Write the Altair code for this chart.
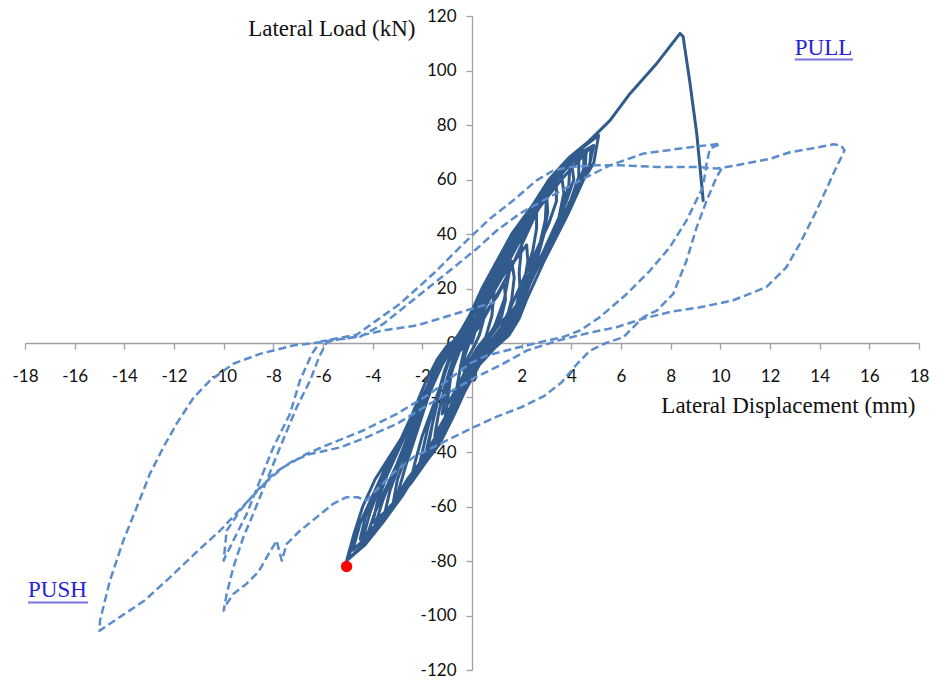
import altair as alt
import pandas as pd

# ---------------- data ----------------
x_ticks = [-18, -16, -14, -12, -10, -8, -6, -4, -2, 0, 2, 4, 6, 8, 10, 12, 14, 16, 18]
y_ticks = [-120, -100, -80, -60, -40, -20, 0, 20, 40, 60, 80, 100, 120]

# solid curve: cycles up to about +/-5 mm (x mm, y kN), then the final pull
cyc_01 = [(0.0, 0), (0.15, 5), (0.35, 10), (0.5, 12), (0.45, 8), (0.3, 3), (0.1, -1), (-0.15, -5),
          (-0.35, -10), (-0.3, -5), (-0.15, -1)]
cyc_02 = [(0.05, 3), (0.3, 10), (0.6, 18), (0.93, 29), (0.9, 20), (0.8, 10), (0.55, 2), (0.2, -2),
          (-0.2, -8), (-0.5, -16), (-0.75, -24.8), (-0.6, -16), (-0.45, -8), (-0.3, -2)]
cyc_03 = [(-0.2, 1), (0.2, 7), (0.6, 12), (1.0, 17), (1.3, 22), (1.35, 16), (1.2, 10), (0.9, 5),
          (0.5, 0), (0.1, -5), (-0.3, -11), (-0.7, -18), (-1.2, -26), (-1.05, -18), (-0.8, -10),
          (-0.5, -3)]
cyc_04 = [(0.0, 2), (0.35, 12), (0.75, 22), (1.2, 30), (1.55, 34), (1.5, 26), (1.3, 16), (0.9, 6),
          (0.5, 0), (0.1, -4), (-0.3, -12), (-0.7, -22), (-1.15, -32.1), (-1.0, -22), (-0.85, -12),
          (-0.6, -4), (-0.4, 0)]
cyc_05 = [(-0.2, 0), (0.2, 8), (0.6, 16), (1.0, 22), (1.4, 27), (1.6, 30), (1.7, 24), (1.6, 16),
          (1.4, 9), (1.0, 3), (0.5, -1), (0.0, -6), (-0.5, -16), (-1.0, -26), (-1.5, -34),
          (-1.35, -26), (-1.1, -16), (-0.8, -7), (-0.5, -1)]
cyc_06 = [(-0.3, 0), (0.2, 8), (0.7, 16), (1.2, 24), (1.7, 30), (2.2, 36), (2.25, 30), (2.1, 22),
          (1.8, 14), (1.3, 6), (0.8, 1), (0.2, -4), (-0.3, -12), (-0.8, -22), (-1.3, -32), (-1.8, -40),
          (-1.6, -30), (-1.3, -18), (-1.0, -8), (-0.6, -1)]
cyc_07 = [(-0.1, 2), (0.3, 10), (0.8, 22), (1.4, 32), (1.9, 38), (2.07, 42.5), (2.0, 36), (1.9, 26),
          (1.93, 19.9), (1.8, 14), (1.55, 11), (1.2, 8), (0.7, 2), (0.3, -2), (-0.2, -10), (-0.7, -20),
          (-1.2, -30), (-1.6, -38), (-1.96, -44.4), (-1.7, -34), (-1.4, -22), (-1.1, -10), (-0.8, -3),
          (-0.5, 0)]
cyc_08 = [(-0.3, 1), (0.2, 8), (0.6, 16), (1.0, 24), (1.5, 33), (2.1, 42), (2.6, 48), (2.6, 42),
          (2.45, 34), (2.2, 26), (1.95, 18), (1.7, 11), (1.3, 5), (0.8, 0), (0.3, -6), (-0.2, -15),
          (-0.7, -26), (-1.3, -37), (-1.8, -43), (-2.2, -48), (-2.0, -40), (-1.75, -30), (-1.4, -20),
          (-1.1, -10), (-0.8, -3)]
cyc_09 = [(-0.2, 1), (0.2, 8), (0.7, 20), (1.3, 30), (1.8, 40), (2.4, 48), (3.0, 53.5), (2.95, 45),
          (2.7, 35), (2.3, 25), (1.9, 15), (1.4, 6), (0.8, 0), (0.3, -4), (-0.3, -14), (-0.9, -26),
          (-1.5, -36), (-2.1, -44), (-2.6, -50), (-3.03, -56.6), (-2.7, -46), (-2.2, -32), (-1.7, -18),
          (-1.2, -8), (-0.8, -2)]
cyc_10 = [(-0.3, 0), (0.3, 6), (0.9, 16), (1.5, 26), (2.0, 36), (2.5, 46), (3.0, 55), (3.05, 48),
          (2.9, 40), (2.6, 30), (2.2, 20), (1.9, 12), (1.5, 5), (1.0, 0), (0.4, -5), (-0.1, -14),
          (-0.6, -24), (-1.2, -34), (-1.8, -43), (-2.5, -52), (-2.3, -44), (-2.0, -34), (-1.6, -24),
          (-1.2, -14), (-0.9, -6), (-0.6, -1)]
cyc_11 = [(-0.5, 0), (0.0, 5), (0.5, 14), (1.0, 22), (1.6, 32), (2.2, 42), (2.8, 51), (3.4, 60),
          (3.4, 52), (3.1, 44), (2.6, 34), (2.1, 24), (1.6, 14), (1.2, 6), (0.7, 0), (0.1, -6),
          (-0.4, -16), (-1.0, -28), (-1.7, -40), (-2.5, -51), (-3.2, -60), (-3.0, -50), (-2.6, -40),
          (-2.1, -28), (-1.6, -16), (-1.2, -7), (-0.8, -1)]
cyc_12 = [(-0.4, 0), (0.1, 8), (0.5, 18), (1.1, 30), (1.7, 40), (2.5, 50), (3.2, 60), (3.95, 66.4),
          (3.9, 58), (3.6, 48), (3.2, 40), (2.7, 30), (2.2, 20), (1.7, 10), (1.1, 2), (0.5, -3),
          (-0.1, -12), (-0.7, -24), (-1.4, -36), (-2.2, -46), (-2.9, -56), (-3.5, -63), (-3.97, -68.9),
          (-3.6, -58), (-3.0, -44), (-2.4, -30), (-1.8, -18), (-1.2, -6), (-0.8, -1)]
cyc_13 = [(-0.4, 2), (0.2, 10), (0.8, 20), (1.4, 30), (2.0, 40), (2.7, 50), (3.2, 57), (3.6, 62),
          (3.7, 55), (3.5, 46), (3.0, 36), (2.5, 26), (2.0, 18), (1.8, 12), (1.4, 4), (0.9, -1),
          (0.2, -8), (-0.3, -16), (-0.9, -28), (-1.6, -40), (-2.4, -50), (-3.0, -57), (-3.5, -62),
          (-3.3, -54), (-2.9, -44), (-2.4, -34), (-1.9, -22), (-1.5, -12), (-1.1, -4)]
cyc_14 = [(-0.5, 1), (0.0, 9), (0.5, 20), (1.2, 31), (1.8, 42), (2.6, 52), (3.3, 61), (4.0, 66.4),
          (4.1, 60), (3.8, 52), (3.3, 42), (2.8, 32), (2.2, 22), (1.9, 14), (1.5, 6), (0.9, 0),
          (0.3, -6), (-0.4, -18), (-1.1, -30), (-1.9, -42), (-2.8, -54), (-3.6, -64), (-4.2, -70),
          (-3.9, -62), (-3.3, -50), (-2.7, -38), (-2.0, -24), (-1.4, -12), (-1.0, -3)]
cyc_15 = [(-0.5, 0), (0.1, 7), (0.6, 17), (1.1, 26), (1.7, 36), (2.3, 46), (3.0, 56), (3.7, 64),
          (4.3, 68), (4.3, 61), (4.0, 53), (3.6, 45), (3.1, 37), (2.6, 28), (2.3, 21), (2.0, 14),
          (1.7, 7), (1.2, 1), (0.6, -4), (0.0, -12), (-0.6, -22), (-1.3, -34), (-2.1, -46),
          (-2.9, -56), (-3.5, -62), (-4.0, -66), (-3.8, -58), (-3.4, -48), (-2.9, -38), (-2.3, -26),
          (-1.7, -14), (-1.2, -5), (-0.8, 0)]
cyc_16 = [(-0.6, 0), (-0.1, 8), (0.4, 18), (1.0, 28), (1.7, 38), (2.5, 48), (3.2, 58), (3.9, 66),
          (4.4, 70), (4.9, 72.5), (4.7, 64), (4.35, 58), (3.9, 50), (3.4, 42), (2.9, 33), (2.4, 24),
          (2.0, 16), (1.6, 8), (1.0, 1), (0.3, -6), (-0.5, -20), (-1.3, -34), (-2.1, -46), (-3.0, -58),
          (-3.8, -68), (-4.5, -75), (-5.05, -80), (-4.75, -70), (-4.4, -60), (-3.9, -50), (-3.2, -40),
          (-2.5, -30), (-1.9, -20), (-1.4, -10), (-1.0, -2)]
cyc_17 = [(-0.7, 0), (-0.2, 6), (0.2, 14), (0.7, 24), (1.3, 34), (2.0, 44), (2.8, 54), (3.5, 62),
          (4.1, 67), (4.5, 70), (4.5, 64), (4.2, 56), (3.7, 46), (3.1, 36), (2.6, 27), (2.2, 19),
          (1.9, 11), (1.4, 3), (0.8, -2), (0.1, -10), (-0.6, -22), (-1.4, -36), (-2.3, -48),
          (-3.2, -60), (-3.9, -67), (-4.5, -72), (-4.3, -64), (-3.8, -52), (-3.1, -40), (-2.4, -28),
          (-1.8, -16), (-1.3, -6), (-0.9, 0)]
cyc_18 = [(-0.8, 0), (-0.3, 6), (0.3, 16), (0.9, 26), (1.5, 36), (2.3, 46), (3.0, 55), (3.7, 63),
          (4.2, 68), (4.6, 70.5), (4.55, 63), (4.3, 56), (3.9, 48), (3.4, 39), (2.9, 30), (2.5, 22),
          (2.2, 16), (1.9, 9), (1.5, 3), (0.9, -2), (0.3, -8), (-0.3, -18), (-1.0, -30), (-1.8, -42),
          (-2.7, -54), (-3.6, -64), (-4.4, -72), (-4.1, -62), (-3.6, -50), (-3.0, -38), (-2.4, -26),
          (-1.9, -15), (-1.4, -6), (-1.0, -1)]
cyc_19 = [(-0.6, 1), (0.0, 6), (0.4, 12), (0.9, 22), (1.5, 32), (2.1, 42), (2.9, 52), (3.6, 60),
          (4.3, 67), (4.8, 72), (4.75, 66), (4.5, 61), (4.1, 54), (3.6, 46), (3.2, 40), (2.8, 32),
          (2.4, 24), (2.1, 18), (1.9, 12), (1.6, 6), (1.1, 1), (0.5, -4), (-0.2, -14), (-0.9, -26),
          (-1.7, -38), (-2.5, -50), (-3.3, -61), (-4.1, -70), (-4.8, -76), (-4.5, -66), (-4.0, -56),
          (-3.5, -46), (-2.9, -36), (-2.3, -26), (-1.8, -16), (-1.3, -6), (-0.9, -1)]
cyc_20 = [(-0.7, 1), (-0.2, 8), (0.3, 17), (0.9, 27), (1.6, 38), (2.4, 48), (3.1, 58), (3.8, 66),
          (4.5, 72), (5.1, 76.2), (4.9, 66), (4.5, 60), (4.0, 50), (3.5, 42), (3.0, 34), (2.5, 25),
          (2.1, 17), (1.7, 9), (1.1, 2), (0.4, -5), (-0.4, -18), (-1.2, -32), (-2.0, -44), (-2.8, -56),
          (-3.6, -66), (-4.3, -74), (-5.0, -79.5), (-4.6, -68), (-4.0, -56), (-3.3, -44), (-2.5, -30),
          (-1.8, -18), (-1.3, -8), (-0.9, -1)]
final_pull = [(-0.6, 2), (-0.1, 10), (0.4, 20), (1.0, 30), (1.6, 40), (2.4, 50), (3.1, 60), (3.9, 68),
              (4.7, 74), (5.56, 81.7), (6.36, 91.5), (7.44, 102.6), (8.38, 113.6), (8.5, 112.5),
              (8.78, 95.2), (9.05, 76.8), (9.31, 52.3)]

solid_cycles = [cyc_01, cyc_02, cyc_03, cyc_04, cyc_05, cyc_06, cyc_07, cyc_08, cyc_09, cyc_10,
                cyc_11, cyc_12, cyc_13, cyc_14, cyc_15, cyc_16, cyc_17, cyc_18, cyc_19, cyc_20,
                final_pull]

# dashed curve: +/-10 mm and +/-15 mm loops
dash_x = [10.05, 9.85, 9.45, 9.05, 8.64, 8.1, 7.44, 6.9, 6.09, 5.4, 4.75, 4.2, 3.6, 2.9, 2.0, 1.0, 0.05, -1.29, -2.36, -3.2, -3.8, -4.26, -4.6, -5.05, -5.59, -6.26, -6.93, -7.46, -7.66, -7.87, -8.27, -8.6, -9.1, -9.6, -9.9, -10.0,
          -9.88, -9.61, -9.21, -8.81, -8.27, -7.73, -7.06, -6.52, -6.15, -5.85, -5.3,
          -4.5, -3.57, -2.23, -0.89, 0.19, 1.0, 1.93, 2.87, 4.35, 5.56, 6.9, 8.5, 9.5, 10.0,
          9.58, 9.45, 9.3, 9.2, 8.64, 7.97, 7.17, 6.23, 5.15, 4.35, 3.6, 2.87, 1.93, 0.59, -0.08, -1.7, -3.03, -4.38, -5.72, -6.66, -7.6, -8.54, -9.34, -9.88, -10.0,
          -9.95, -9.61, -9.07, -8.54, -8.0, -7.33, -6.93, -6.45, -6.1, -5.4,
          -4.65, -3.84, -2.9, -1.56, -0.21, 0.72, 1.66, 2.6, 3.27, 3.95, 5.02, 5.96, 7.44, 9.05, 9.85,
          10.66, 12.0, 12.8, 14.0, 14.55, 14.85, 15.0, 14.55, 13.88, 13.2, 12.66, 11.85, 10.5, 9.18, 7.97, 6.88, 5.82, 4.75, 3.5, 2.2, 1.26, 0.05,
          -1.7, -3.03, -4.25, -5.3, -6.5, -7.2, -8.0, -8.7, -9.34, -10.15, -10.95, -12.16, -13.2, -14.4, -15.0,
          -14.98, -14.58, -14.04, -13.5, -12.97, -12.43, -11.9, -11.2, -10.55, -9.61, -8.54, -7.2, -6.12, -4.91, -3.57, -2.23, -0.89, 0.19, 0.93]
dash_y = [64.0, 60.9, 52.3, 42.5, 30.3, 18.0, 11.9, 9.5, 2.1, 0.0, -2.8, -8.0, -14.5, -19.5, -23.5, -27.0, -31.0, -37.0, -41.9, -48.0, -53.5, -57.8, -56.6, -56.6, -59.0, -64.0, -68.9, -73.7, -79.9, -72.5, -78.7, -84.0, -88.5, -92.0, -96.0, -98.2,
          -92.1, -82.3, -71.3, -62.7, -50.5, -38.3, -23.6, -13.8, -5.0, 0.3, 1.5,
          2.3, 7.0, 16.8, 26.6, 34.6, 41.3, 47.5, 52.3, 59.7, 65.2, 69.5, 71.5, 72.6, 73.1,
          71.3, 66.0, 57.2, 55.4, 45.0, 35.2, 26.6, 18.0, 9.5, 4.6, 2.0, 0.6, -1.5, -4.6, -7.5, -18.7, -26.0, -32.1, -37.0, -40.7, -45.6, -53.0, -61.5, -68.9, -79.9,
          -78.7, -72.5, -62.7, -50.5, -38.3, -26.0, -13.8, -4.0, 0.5, 1.8,
          3.0, 8.3, 14.4, 25.4, 37.6, 45.6, 52.3, 59.7, 63.3, 64.6, 65.2, 65.2, 64.6, 64.6, 64.0,
          65.2, 67.6, 70.0, 71.9, 72.9, 72.5, 70.7, 62.1, 48.7, 36.4, 27.8, 20.5, 15.6, 13.1, 11.4, 8.9, 5.8, 3.8, 1.0, -2.8, -7.6, -13.0,
          -22.3, -29.7, -34.6, -38.3, -40.7, -43.2, -48.0, -55.0, -61.0, -68.9, -75.5, -86.0, -94.6, -101.9, -105.6,
          -101.9, -87.2, -72.5, -60.3, -48.0, -38.3, -29.7, -19.9, -13.8, -7.6, -4.0, -0.9, 0.3, 1.9, 4.6, 6.4, 10.1, 13.1, 15.0]

dot_x = [-5.05]
dot_y = [-82.0]

note_text = ["PULL", "PUSH"]
note_x = [13.0, -17.88]
note_y = [105.6, -93.35]
note_x2 = [15.34, -15.46]
note_uy = [104.0, -95.2]

# ---------------- chart ----------------
solid_pts = [p for cyc in solid_cycles for p in cyc]
df_solid = pd.DataFrame({"x": [p[0] for p in solid_pts], "y": [p[1] for p in solid_pts],
                         "i": list(range(len(solid_pts)))})
df_dash = pd.DataFrame({"x": dash_x, "y": dash_y, "i": list(range(len(dash_x)))})
df_dot = pd.DataFrame({"x": dot_x, "y": dot_y})
df_note = pd.DataFrame({"t": note_text, "x": note_x, "y": note_y, "x2": note_x2, "uy": note_uy})

xsc = alt.Scale(domain=[-18, 18], nice=False, zero=False)
ysc = alt.Scale(domain=[-120, 120], nice=False, zero=False)

axis_gray = "#a0a0a0"
x_axis = alt.Axis(values=x_ticks, offset=-327, grid=False, domainColor=axis_gray, domainWidth=1.3,
                  tickColor=axis_gray, tickSize=6, tickWidth=1.3,
                  labelFont="Lato", labelFontSize=17, labelColor="#111111", labelPadding=19,
                  labelFlush=False, labelOverlap=False, labelExpr="'' + datum.value",
                  title="Lateral Displacement (mm)", titleFont="Liberation Serif", titleFontSize=23,
                  titleFontWeight="normal", titleColor="#111111", titleX=890, titleY=69,
                  titleAlign="right", titleBaseline="alphabetic")
y_axis = alt.Axis(values=y_ticks, offset=-447, grid=False, domainColor=axis_gray, domainWidth=1.3,
                  tickColor=axis_gray, tickSize=6, tickWidth=1.3,
                  labelFont="Lato", labelFontSize=17, labelColor="#111111", labelPadding=10,
                  labelFlush=False, labelOverlap=False, labelExpr="'' + datum.value",
                  title="Lateral Load (kN)", titleFont="Liberation Serif", titleFontSize=23,
                  titleFontWeight="normal", titleColor="#111111", titleAngle=0, titleX=-57, titleY=19,
                  titleAlign="right", titleBaseline="alphabetic")

X = alt.X("x:Q", scale=xsc, axis=x_axis)
Y = alt.Y("y:Q", scale=ysc, axis=y_axis)

solid = alt.Chart(df_solid).mark_line(color="#315b8c", strokeWidth=3.0, strokeJoin="round",
                                      strokeCap="round").encode(x=X, y=Y, order="i:Q")
dashed = alt.Chart(df_dash).mark_line(color="#5b8dcc", strokeWidth=2.5, strokeDash=[8, 4],
                                      strokeJoin="round").encode(x=X, y=Y, order="i:Q")
dot = alt.Chart(df_dot).mark_circle(color="#ff0000", size=130, opacity=1).encode(x=X, y=Y)
notes = alt.Chart(df_note).mark_text(font="Liberation Serif", fontSize=23, color="#2a22d8",
                                     align="left", baseline="alphabetic").encode(x=X, y=Y, text="t:N")
underline = alt.Chart(df_note).mark_rule(color="#7a74e6", strokeWidth=2).encode(
    x=X, x2=alt.X2("x2:Q"), y=alt.Y("uy:Q", scale=ysc, axis=y_axis))

chart = alt.layer(solid, dashed, dot, notes, underline).properties(
    width=894, height=654,
    autosize=alt.AutoSizeParams(type="none"),
    padding={"left": 25, "top": 16, "right": 18, "bottom": 11},
).configure_view(stroke=None)

chart.save("out.html", embed_options={"renderer": "svg", "actions": False})
